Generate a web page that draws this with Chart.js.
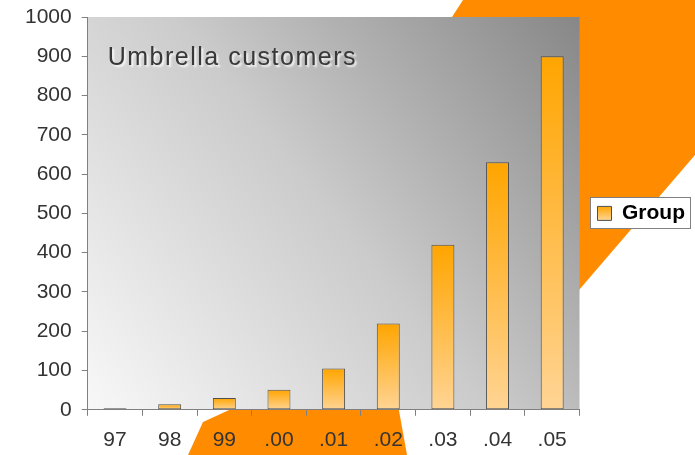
<!DOCTYPE html>
<html>
<head>
<meta charset="utf-8">
<script src="https://cdn.jsdelivr.net/npm/chart.js@4"></script>
<style>
  html, body { margin: 0; padding: 0; background: #fff; }
  #wrap { width: 695px; height: 455px; }
</style>
</head>
<body>
<div id="wrap"><canvas id="umbrellaChart"></canvas></div>
<script>
const years = ['97', '98', '99', '.00', '.01', '.02', '.03', '.04', '.05'];
const groupCustomers = [4, 14, 30, 51, 105, 220, 420, 630, 900];
const seriesName = 'Group';
const chartTitle = 'Umbrella customers';

const FONT = "'Liberation Sans', Arial, sans-serif";

// orange backdrop + grey gradient plot area, legend frame
const backdrop = {
    id: 'backdrop',
    afterLayout(chart) {
        // centre the legend on the plot area instead of the whole canvas
        const lg = chart.legend;
        const a = chart.chartArea;
        if (!lg) return;
        const shift = (lg.top + lg.bottom) / 2 - (a.top + a.bottom) / 2;
        lg.bottom -= 2 * shift;
    },
    beforeDraw(chart) {
        const ctx = chart.ctx;
        const a = chart.chartArea;
        ctx.save();
        ctx.fillStyle = '#ffffff';
        ctx.fillRect(0, 0, chart.width, chart.height);

        ctx.fillStyle = '#ff8c00';
        ctx.beginPath();
        ctx.moveTo(463, 0);
        ctx.lineTo(695, 0);
        ctx.lineTo(695, 155);
        ctx.lineTo(579, 290);
        ctx.lineTo(398, 405);
        ctx.lineTo(407, 455);
        ctx.lineTo(188, 455);
        ctx.lineTo(203, 422);
        ctx.lineTo(240, 405);
        ctx.lineTo(452, 17);
        ctx.closePath();
        ctx.fill();

        const g = ctx.createLinearGradient(a.left, a.bottom, a.right, a.top);
        g.addColorStop(0, '#f8f8f8');
        g.addColorStop(0.5, '#cbcbcb');
        g.addColorStop(1, '#878787');
        ctx.fillStyle = g;
        ctx.fillRect(a.left, a.top, a.right - a.left, a.bottom - a.top);

        const hb = chart.legend && chart.legend.legendHitBoxes[0];
        if (hb) {
            const cy = hb.top + hb.height / 2;
            const x0 = Math.round(hb.left - 8);
            const w = Math.round(hb.width + 14);
            ctx.fillStyle = '#ffffff';
            ctx.strokeStyle = '#808080';
            ctx.lineWidth = 1;
            ctx.fillRect(x0, Math.round(cy - 16), w, 32);
            ctx.strokeRect(x0 + 0.5, Math.round(cy - 16) + 0.5, w - 1, 31);
        }
        ctx.restore();
    },
    afterDatasetsDraw(chart) {
        const ctx = chart.ctx;
        const a = chart.chartArea;
        ctx.save();
        ctx.font = '25px ' + FONT;
        ctx.letterSpacing = '1.5px';
        ctx.textBaseline = 'middle';
        ctx.shadowColor = 'rgba(255,255,255,0.85)';
        ctx.shadowOffsetX = 2;
        ctx.shadowOffsetY = 2;
        ctx.shadowBlur = 2;
        ctx.fillStyle = '#383838';
        ctx.fillText(chartTitle, a.left + 20, a.top + 41);
        ctx.restore();
    }
};

function barGradient(context) {
    const chart = context.chart;
    if (!chart.chartArea || context.dataIndex === undefined) return '#ffc060';
    const y = chart.scales.y;
    const top = y.getPixelForValue(context.raw);
    const bottom = y.getPixelForValue(0);
    const g = chart.ctx.createLinearGradient(0, top, 0, Math.max(bottom, top + 1));
    g.addColorStop(0, '#ffa500');
    g.addColorStop(1, '#ffd494');
    return g;
}

const ctx = document.getElementById('umbrellaChart').getContext('2d');
new Chart(ctx, {
    type: 'bar',
    data: {
        labels: years,
        datasets: [{
            label: seriesName,
            data: groupCustomers,
            backgroundColor: barGradient,
            borderColor: '#4f4f4f',
            borderWidth: 1,
            borderSkipped: false,
            categoryPercentage: 1,
            barPercentage: 0.42
        }]
    },
    options: {
        responsive: true,
        maintainAspectRatio: false,
        animation: false,
        layout: { padding: { left: 15, top: 17, right: 0, bottom: -10 } },
        plugins: {
            title: { display: false },
            tooltip: { enabled: false },
            legend: {
                position: 'right',
                labels: {
                    boxWidth: 14,
                    boxHeight: 14,
                    padding: 18,
                    color: '#333333',
                    font: { family: FONT, size: 21, weight: 'bold' },
                    generateLabels(chart) {
                        const g = chart.ctx.createLinearGradient(0, 206, 0, 220);
                        g.addColorStop(0, '#ffa500');
                        g.addColorStop(1, '#ffd494');
                        return [{
                            text: seriesName,
                            fillStyle: g,
                            strokeStyle: '#4f4f4f',
                            lineWidth: 1,
                            datasetIndex: 0,
                            hidden: false
                        }];
                    }
                }
            }
        },
        scales: {
            x: {
                grid: { display: true, drawOnChartArea: false, tickLength: 6, color: '#808080', offset: true },
                border: { color: '#808080' },
                ticks: { color: '#333333', padding: 12, font: { family: FONT, size: 21 } }
            },
            y: {
                min: 0,
                max: 1000,
                afterFit(scale) {
                    scale.paddingTop = 0;
                    scale.paddingBottom = 0;
                },
                ticks: {
                    stepSize: 100,
                    color: '#333333',
                    padding: 10,
                    font: { family: FONT, size: 21 },
                    callback: v => String(v)
                },
                grid: { display: true, drawOnChartArea: false, tickLength: 6, color: '#808080' },
                border: { color: '#808080' }
            }
        }
    },
    plugins: [backdrop]
});
</script>
</body>
</html>
